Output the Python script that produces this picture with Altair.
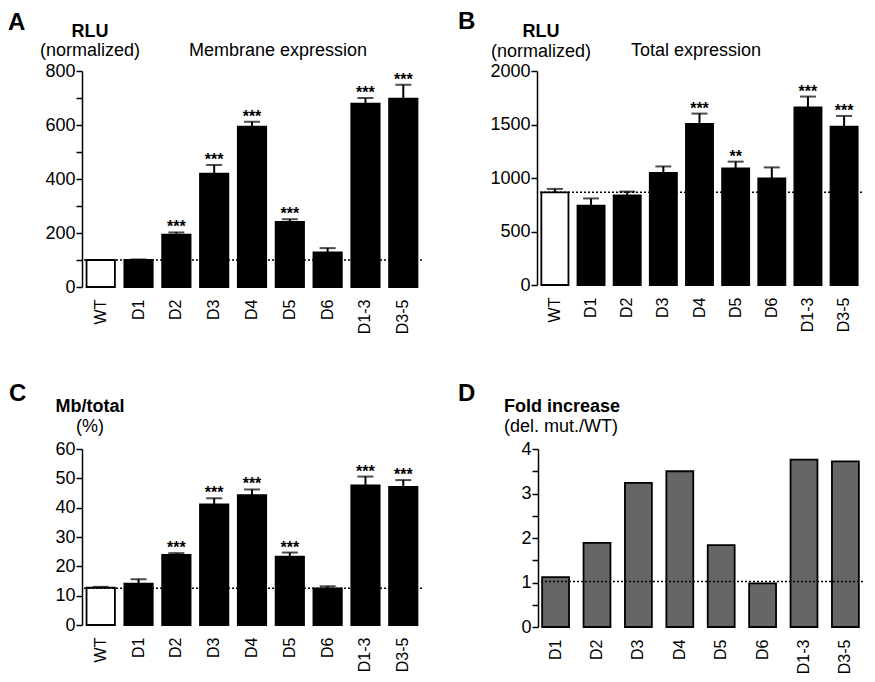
import altair as alt
import pandas as pd

FONT = "Liberation Sans"

cats = ["WT", "D1", "D2", "D3", "D4", "D5", "D6", "D1-3", "D3-5"]
fills = ["white"] + ["black"] * 8

mem_val = [100, 100, 194, 420, 594, 241, 128, 679, 698]
mem_err = [0, 2, 8, 32, 18, 10, 16, 21, 51]
mem_sig = ["", "", "***", "***", "***", "***", "", "***", "***"]
mem_ref = 100

tot_val = [866, 742, 838, 1048, 1506, 1089, 997, 1659, 1481]
tot_err = [32, 67, 35, 60, 96, 64, 102, 102, 99]
tot_sig = ["", "", "", "", "***", "**", "", "***", "***"]
tot_ref = 866

pct_val = [12.7, 14.1, 23.9, 41.1, 44.3, 23.3, 12.5, 47.6, 47.1]
pct_err = [0.3, 1.5, 0.6, 2.1, 1.9, 1.4, 0.7, 3.0, 2.3]
pct_sig = ["", "", "***", "***", "***", "***", "", "***", "***"]
pct_ref = 12.5

fold_cats = ["D1", "D2", "D3", "D4", "D5", "D6", "D1-3", "D3-5"]
fold_val = [1.12, 1.89, 3.24, 3.50, 1.84, 0.98, 3.76, 3.72]
fold_ref = 1.02


def heading(items):
    layers = []
    for text, px, py, size, weight, align in items:
        layers.append(
            alt.Chart(pd.DataFrame({"t": [text]}))
            .mark_text(fontSize=size, fontWeight=weight, font=FONT, align=align,
                       baseline="alphabetic", color="black")
            .encode(x=alt.value(px), y=alt.value(py), text="t:N")
        )
    return layers


def panel(cat_list, vals, errs, sigs, fill_list, ref, domain, ticks, label_step,
          width, height, heads, pad_inner=0.25, pad_outer=0.12, cap=16):
    df = pd.DataFrame({
        "cat": cat_list,
        "val": vals,
        "top": [v + e for v, e in zip(vals, errs)],
        "sig": sigs if sigs is not None else [""] * len(vals),
        "fill": fill_list,
    })
    x_scale = alt.Scale(paddingInner=pad_inner, paddingOuter=pad_outer)
    x_axis = alt.Axis(labelAngle=-90, domain=False, ticks=False, labelPadding=12,
                      labelFontSize=16, labelFont=FONT, labelColor="black")
    x = alt.X("cat:N", sort=cat_list, title=None, scale=x_scale, axis=x_axis)
    y_scale = alt.Scale(domain=domain, nice=False, zero=True)
    y_axis = alt.Axis(values=ticks, grid=False, domainColor="black", domainWidth=1.5,
                      tickColor="black", tickWidth=1.5, tickSize=6, labelPadding=1,
                      labelFontSize=18, labelFont=FONT, labelColor="black",
                      labelOverlap=False,
                      labelExpr=f"abs(datum.value / {label_step} - round(datum.value / {label_step})) < 0.001 ? format(datum.value, 'd') : ''")

    def Y(field):
        return alt.Y(field, scale=y_scale, axis=y_axis, title=None)

    base = alt.Chart(df)
    bars = base.mark_bar(stroke="black", strokeWidth=1.8).encode(
        x=x, y=Y("val:Q"), fill=alt.Fill("fill:N", scale=None))
    layers = [bars]
    if any(e > 0 for e in errs):
        layers.append(base.mark_rule(strokeWidth=2, color="black").encode(
            x=x, y=Y("val:Q"), y2="top:Q"))
        layers.append(base.mark_tick(size=cap, thickness=2, color="black").encode(
            x=x, y=Y("top:Q")))
    if sigs is not None:
        layers.append(base.mark_text(fontSize=16, font=FONT, fontWeight="bold",
                                     baseline="alphabetic", dy=0, color="black").encode(
            x=x, y=Y("top:Q"), text="sig:N"))
    layers.append(alt.Chart(pd.DataFrame({"ref": [ref]})).mark_rule(
        strokeDash=[2, 2], strokeWidth=1.5, color="black").encode(y=Y("ref:Q")))
    layers += heading(heads)
    return alt.layer(*layers).properties(width=width, height=height)


panelA = panel(cats, mem_val, mem_err, mem_sig, fills, mem_ref, [0, 800],
               list(range(0, 801, 100)), 200, 340, 216,
               [("A", -74, -41, 24, "bold", "left"),
                ("RLU", 8, -34, 18, "bold", "center"),
                ("(normalized)", 8, -15, 18, "normal", "center"),
                ("Membrane expression", 196, -15, 18, "normal", "center")])

panelB = panel(cats, tot_val, tot_err, tot_sig, fills, tot_ref, [0, 2000],
               list(range(0, 2001, 500)), 500, 325, 214,
               [("B", -79, -42, 24, "bold", "left"),
                ("RLU", 4, -34, 18, "bold", "center"),
                ("(normalized)", 4, -14, 18, "normal", "center"),
                ("Total expression", 159, -15, 18, "normal", "center")])

panelC = panel(cats, pct_val, pct_err, pct_sig, fills, pct_ref, [0, 60],
               list(range(0, 61, 10)), 10, 340, 176,
               [("C", -73, -48, 24, "bold", "left"),
                ("Mb/total", 8, -37, 18, "bold", "center"),
                ("(%)", 8, -17, 18, "normal", "center")])

panelD = panel(fold_cats, fold_val, [0] * len(fold_val), None, ["#666666"] * len(fold_val),
               fold_ref, [0, 4], [i * 0.5 for i in range(9)], 1, 325, 178,
               [("D", -80, -48, 24, "bold", "left"),
                ("Fold increase", -34, -37, 18, "bold", "left"),
                ("(del. mut./WT)", -34, -17, 18, "normal", "left")],
               pad_inner=0.35, pad_outer=0.1)

row1 = alt.hconcat(panelA, panelB, spacing=35)
row2 = alt.hconcat(panelC, panelD, spacing=35)
chart = alt.vconcat(row1, row2, spacing=48).properties(
    padding={"left": 0, "top": 2, "right": 0, "bottom": 0}
).configure_view(stroke=None).configure_axis(labelOverlap=False)

chart.save("out.html", embed_options={"renderer": "svg", "actions": False})
